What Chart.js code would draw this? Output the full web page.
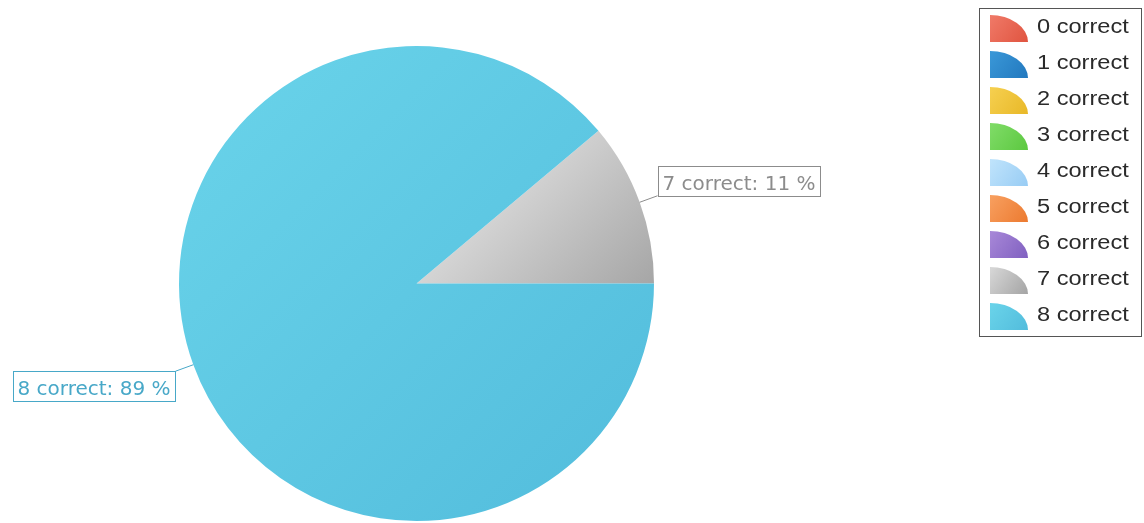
<!DOCTYPE html>
<html><head><meta charset="utf-8">
<script src="https://cdn.jsdelivr.net/npm/chart.js@4"></script>
<style>html,body{margin:0;padding:0;background:#fff;}#wrap{width:1144px;height:523px;position:relative;}</style>
</head><body><div id="wrap"><canvas id="c"></canvas></div>
<script>
const categories = ['0 correct','1 correct','2 correct','3 correct','4 correct','5 correct','6 correct','7 correct','8 correct'];
const values = [0,0,0,0,0,0,0,1,8];
const percentLabels = ['0 %','0 %','0 %','0 %','0 %','0 %','0 %','11 %','89 %'];
const colorsLight = ['#f07a68','#3a98d8','#f6d050','#80dc68','#c0e4fc','#f8a060','#a888d8','#d8d8d8','#6ad4ea'];
const colorsDark  = ['#e05440','#2278be','#e8b828','#5cc840','#98ccf4','#ec7a30','#8060c0','#a4a4a4','#52bcdc'];
const labelColors = ['#e05440','#2278be','#d8a818','#5cc840','#80b8e0','#ec7a30','#8060c0','#8c8c8c','#48a8c8'];

function grad(ctx, x0,y0,x1,y1,i,s0,s1){
  const g = ctx.createLinearGradient(x0,y0,x1,y1);
  g.addColorStop(s0||0, colorsLight[i]); g.addColorStop(s1===undefined?1:s1, colorsDark[i]);
  return g;
}

const labelPlugin = {
  id:'sliceLabels',
  afterDatasetsDraw(chart){
    const ctx = chart.ctx;
    const meta = chart.getDatasetMeta(0);
    ctx.save();
    meta.data.forEach((arc,i)=>{
      if(!values[i]) return;
      const p = arc.getProps(['x','y','startAngle','endAngle','outerRadius'],true);
      const mid = (p.startAngle+p.endAngle)/2;
      const cx = Math.cos(mid), sy = Math.sin(mid);
      const x0 = p.x + cx*p.outerRadius, y0 = p.y + sy*p.outerRadius;
      const x1 = x0 + cx*19, y1 = y0 + sy*19;
      ctx.strokeStyle = labelColors[i]; ctx.lineWidth = 1;
      ctx.beginPath(); ctx.moveTo(x0,y0); ctx.lineTo(x1,y1); ctx.stroke();
      const txt = categories[i] + ': ' + percentLabels[i];
      ctx.font = '20px "DejaVu Sans", Verdana, sans-serif';
      const w = Math.round(ctx.measureText(txt).width) + 9, h = 30;
      let bx = cx >= 0 ? x1 : x1 - w;
      let by = sy < 0 ? y1 - h : y1;
      bx = Math.round(bx)+0.5; by = Math.round(by)+0.5;
      ctx.fillStyle = '#fff'; ctx.fillRect(bx,by,w,h);
      ctx.strokeRect(bx,by,w,h);
      ctx.fillStyle = labelColors[i];
      ctx.textBaseline = 'alphabetic'; ctx.textAlign = 'left';
      ctx.fillText(txt, bx+4, by+23);
    });
    ctx.restore();
  }
};

const legendPlugin = {
  id:'boxLegend',
  afterDraw(chart){
    const ctx = chart.ctx;
    ctx.save();
    ctx.strokeStyle = '#555'; ctx.lineWidth = 1;
    ctx.strokeRect(979.5, 8.5, 162, 328);
    categories.forEach((lab,i)=>{
      const top = 15 + 36*i;
      const bx = 990, by = top + 27;
      ctx.beginPath();
      ctx.moveTo(bx,by);
      ctx.lineTo(bx,top);
      ctx.ellipse(bx,by,38,27,0,-Math.PI/2,0,false);
      ctx.closePath();
      ctx.fillStyle = grad(ctx,bx,top,bx+38,by,i);
      ctx.fill();
      ctx.save();
      ctx.translate(1037, top + 18);
      ctx.scale(1.18, 1);
      ctx.fillStyle = '#2a2a2a';
      ctx.font = '20px "Liberation Sans", Arial, sans-serif';
      ctx.textBaseline = 'alphabetic'; ctx.textAlign = 'left';
      ctx.fillText(lab, 0, 0);
      ctx.restore();
    });
    ctx.restore();
  }
};

new Chart(document.getElementById('c'), {
  type:'pie',
  data:{ labels: categories, datasets:[{
    data: values,
    borderWidth: 0,
    backgroundColor(c){
      const ch = c.chart, a = ch.chartArea, i = c.dataIndex;
      if(!a) return colorsLight[i];
      if(i === 7) return grad(ch.ctx, a.left, a.top, a.right, a.bottom, i, 0.48, 0.76);
      return grad(ch.ctx, a.left, a.top, a.right, a.bottom, i);
    }
  }]},
  options:{
    responsive:true, maintainAspectRatio:false, animation:false,
    rotation: 50,
    layout:{padding:{left:179,right:490,top:46,bottom:2}},
    plugins:{legend:{display:false}, tooltip:{enabled:false}}
  },
  plugins:[labelPlugin, legendPlugin]
});
</script></body></html>
